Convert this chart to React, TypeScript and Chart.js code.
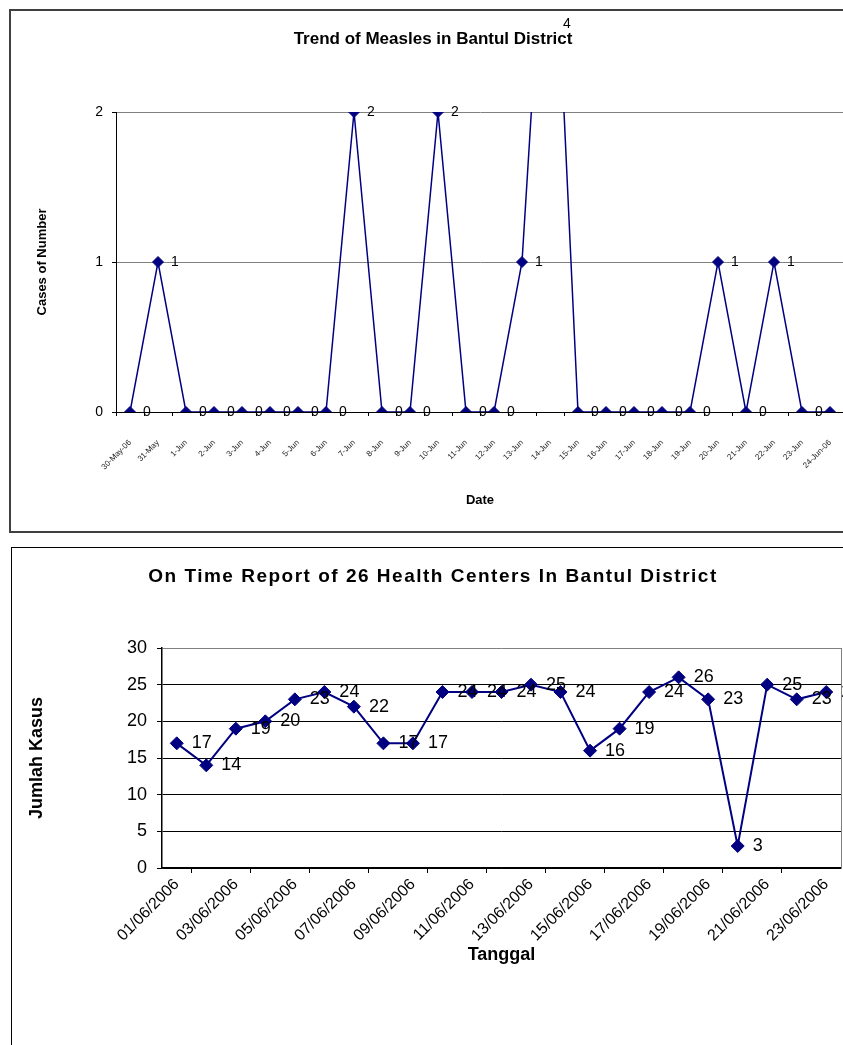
import React, { useEffect, useRef } from "react";
import { Chart, registerables } from "chart.js";

Chart.register(...registerables);

// ---------- Chart 1 data: Trend of Measles ----------
const measlesDates: string[] = [
  "30-May-06", "31-May", "1-Jun", "2-Jun", "3-Jun", "4-Jun", "5-Jun", "6-Jun",
  "7-Jun", "8-Jun", "9-Jun", "10-Jun", "11-Jun", "12-Jun", "13-Jun", "14-Jun",
  "15-Jun", "16-Jun", "17-Jun", "18-Jun", "19-Jun", "20-Jun", "21-Jun", "22-Jun",
  "23-Jun", "24-Jun-06",
];
const measlesCases: number[] = [
  0, 1, 0, 0, 0, 0, 0, 0, 2, 0, 0, 2, 0, 0, 1, 4, 0, 0, 0, 0, 0, 1, 0, 1, 0, 0,
];
const measlesYMin = 0;
const measlesYMax = 2;
const measlesYStep = 1;

// ---------- Chart 2 data: On Time Report ----------
const reportDates: string[] = [
  "01/06/2006", "02/06/2006", "03/06/2006", "04/06/2006", "05/06/2006", "06/06/2006",
  "07/06/2006", "08/06/2006", "09/06/2006", "10/06/2006", "11/06/2006", "12/06/2006",
  "13/06/2006", "14/06/2006", "15/06/2006", "16/06/2006", "17/06/2006", "18/06/2006",
  "19/06/2006", "20/06/2006", "21/06/2006", "22/06/2006", "23/06/2006",
];
const reportCounts: number[] = [
  17, 14, 19, 20, 23, 24, 22, 17, 17, 24, 24, 24, 25, 24, 16, 19, 24, 26, 23, 3, 25, 23, 24,
];
const reportYMin = 0;
const reportYMax = 30;
const reportYStep = 5;

const NAVY = "#000080";
const FONT = '"Liberation Sans", Arial, sans-serif';

Chart.defaults.font.family = FONT;

function valueLabelsPlugin(fontSize: number, dx: number, clampY: number) {
  return {
    id: "valueLabels",
    afterDatasetsDraw(chart: any) {
      const ctx = chart.ctx;
      const meta = chart.getDatasetMeta(0);
      const data = chart.data.datasets[0].data as number[];
      ctx.save();
      ctx.font = `${fontSize}px ${FONT}`;
      ctx.fillStyle = "#000";
      ctx.textAlign = "left";
      ctx.textBaseline = "middle";
      meta.data.forEach((pt: any, i: number) => {
        let y = pt.y;
        if (y < chart.chartArea.top) y = clampY;
        ctx.fillText(String(data[i]), pt.x + dx, y);
      });
      ctx.restore();
    },
  };
}

const report2Extras = {
  id: "report2Extras",
  beforeDatasetsDraw(chart: any) {
    const { ctx, chartArea } = chart;
    ctx.save();
    ctx.strokeStyle = "#808080";
    ctx.lineWidth = 1;
    ctx.beginPath();
    ctx.moveTo(chartArea.right + 0.5, chartArea.top);
    ctx.lineTo(chartArea.right + 0.5, chartArea.bottom);
    ctx.stroke();
    ctx.restore();
  },
  afterDraw(chart: any) {
    const ctx = chart.ctx;
    ctx.save();
    ctx.font = `bold 19px ${FONT}`;
    (ctx as any).letterSpacing = "1.5px";
    ctx.fillStyle = "#000";
    ctx.textAlign = "center";
    ctx.textBaseline = "middle";
    ctx.fillText("On Time Report of 26 Health Centers In Bantul District", 433, 44);
    ctx.restore();
  },
};

export default function App() {
  const ref1 = useRef<HTMLCanvasElement | null>(null);
  const ref2 = useRef<HTMLCanvasElement | null>(null);

  useEffect(() => {
    if (!ref1.current || !ref2.current) return;

    const c1 = new Chart(ref1.current, {
      type: "line",
      data: {
        labels: measlesDates,
        datasets: [
          {
            data: measlesCases,
            borderColor: NAVY,
            backgroundColor: NAVY,
            borderWidth: 1.5,
            pointStyle: "rectRot",
            pointRadius: 5.5,
            pointBorderWidth: 1,
            pointBackgroundColor: NAVY,
            pointBorderColor: NAVY,
            tension: 0,
            fill: false,
          },
        ],
      },
      options: {
        animation: false,
        responsive: false,
        maintainAspectRatio: false,
        layout: { padding: { left: 22, right: 36, top: 0, bottom: 0 } },
        plugins: {
          legend: { display: false },
          tooltip: { enabled: false },
          title: {
            display: true,
            text: "Trend of Measles in Bantul District",
            color: "#000",
            font: { family: FONT, size: 17, weight: "bold", lineHeight: 1.2 },
            padding: { top: 29, bottom: 62.6 },
          },
        },
        scales: {
          x: {
            type: "category",
            offset: true,
            afterFit: (s: any) => {
              s.height = 120;
            },
            grid: {
              offset: true,
              drawOnChartArea: false,
              drawTicks: true,
              tickLength: 4,
              color: "#000",
            },
            border: { color: "#000", width: 1 },
            ticks: {
              autoSkip: false,
              minRotation: 45,
              maxRotation: 45,
              padding: 22,
              color: "#222",
              font: { family: FONT, size: 8 },
            },
            title: {
              display: true,
              text: "Date",
              color: "#000",
              font: { family: FONT, size: 13, weight: "bold", lineHeight: 1.2 },
              padding: { top: 0, bottom: 24 },
            },
          },
          y: {
            min: measlesYMin,
            max: measlesYMax,
            afterFit: (s: any) => {
              s.width = 94;
            },
            ticks: {
              stepSize: measlesYStep,
              padding: 9,
              color: "#000",
              font: { family: FONT, size: 14 },
            },
            grid: {
              color: (c: any) => (c.tick && c.tick.value === 0 ? "#000" : "#808080"),
              tickColor: "#000",
              tickLength: 4,
            },
            border: { color: "#000", width: 1 },
            title: {
              display: true,
              text: "Cases of Number",
              color: "#000",
              font: { family: FONT, size: 13, weight: "bold", lineHeight: 1.2 },
              padding: { top: 13, bottom: 0 },
            },
          },
        },
      },
      plugins: [valueLabelsPlugin(14, 13, 24)],
    } as any);

    const c2 = new Chart(ref2.current, {
      type: "line",
      data: {
        labels: reportDates,
        datasets: [
          {
            data: reportCounts,
            borderColor: NAVY,
            backgroundColor: NAVY,
            borderWidth: 2,
            pointStyle: "rectRot",
            pointRadius: 6.5,
            pointBorderWidth: 1,
            pointBackgroundColor: NAVY,
            pointBorderColor: NAVY,
            tension: 0,
            fill: false,
          },
        ],
      },
      options: {
        animation: false,
        responsive: false,
        maintainAspectRatio: false,
        layout: { padding: { left: 0, right: 39, top: 115, bottom: 0 } },
        plugins: {
          legend: { display: false },
          tooltip: { enabled: false },
          title: { display: false },
        },
        scales: {
          x: {
            type: "category",
            offset: true,
            afterFit: (s: any) => {
              s.height = 177;
            },
            grid: {
              offset: true,
              drawOnChartArea: false,
              drawTicks: true,
              tickLength: 5,
              tickColor: (c: any) => (c.index % 2 === 1 ? "#000" : "rgba(0,0,0,0)"),
            },
            border: { color: "#000", width: 1.5 },
            ticks: {
              autoSkip: false,
              minRotation: 45,
              maxRotation: 45,
              padding: 2,
              color: "#000",
              font: { family: FONT, size: 16 },
              callback: (_v: any, i: number) => (i % 2 === 0 ? reportDates[i] : ""),
            },
            title: {
              display: true,
              text: "Tanggal",
              color: "#000",
              font: { family: FONT, size: 18, weight: "bold", lineHeight: 1.2 },
              padding: { top: 0, bottom: 79 },
            },
          },
          y: {
            min: reportYMin,
            max: reportYMax,
            afterFit: (s: any) => {
              s.width = 162;
            },
            ticks: {
              stepSize: reportYStep,
              padding: 10,
              color: "#000",
              font: { family: FONT, size: 18 },
            },
            grid: {
              color: (c: any) =>
                c.tick && c.tick.value === reportYMax ? "#808080" : "#000",
              tickColor: "#000",
              tickLength: 5,
            },
            border: { color: "#000", width: 1.5 },
            title: {
              display: true,
              text: "Jumlah Kasus",
              color: "#000",
              font: { family: FONT, size: 18, weight: "bold", lineHeight: 1.2 },
              padding: { top: 26, bottom: 0 },
            },
          },
        },
      },
      plugins: [valueLabelsPlugin(18, 15, 0), report2Extras],
    } as any);

    return () => {
      c1.destroy();
      c2.destroy();
    };
  }, []);

  return (
    <div
      style={{
        position: "absolute",
        left: 0,
        top: 0,
        width: 843,
        height: 1045,
        overflow: "hidden",
        background: "#fff",
      }}
    >
      <div
        style={{
          position: "absolute",
          left: 9,
          top: 9,
          width: 900,
          height: 524,
          border: "2px solid #404040",
          boxSizing: "border-box",
        }}
      />
      <div
        style={{
          position: "absolute",
          left: 11,
          top: 547,
          width: 900,
          height: 600,
          border: "1px solid #000",
          boxSizing: "border-box",
        }}
      />
      <canvas
        ref={ref1}
        width={880}
        height={532}
        style={{ position: "absolute", left: 0, top: 0, width: 880, height: 532 }}
      />
      <canvas
        ref={ref2}
        width={880}
        height={512}
        style={{ position: "absolute", left: 0, top: 533, width: 880, height: 512 }}
      />
    </div>
  );
}
